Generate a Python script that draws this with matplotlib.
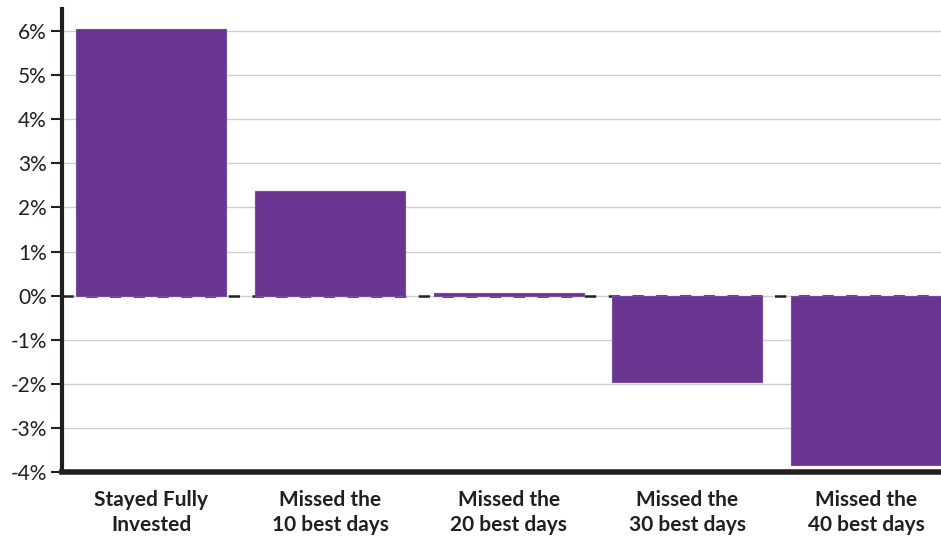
import matplotlib
matplotlib.use('Agg')
import matplotlib.pyplot as plt
import numpy as np

# data
categories = ['Stayed Fully\nInvested', 'Missed the\n10 best days', 'Missed the\n20 best days',
              'Missed the\n30 best days', 'Missed the\n40 best days']
returns = [6.04, 2.38, 0.07, -1.95, -3.85]
yticks = [-4, -3, -2, -1, 0, 1, 2, 3, 4, 5, 6]

plt.rcParams['font.family'] = ['Lato', 'DejaVu Sans']

fig = plt.figure(figsize=(9.41, 5.36), dpi=100)
ax = fig.add_axes([62 / 941, 64 / 536, 1 - 62 / 941, (536 - 64 - 9) / 536])

x = np.arange(len(categories))
ax.bar(x, returns, width=0.84, color='#693591', edgecolor='#7a4aa0', linewidth=0.8, zorder=3)
ax.axhline(0, color='#222222', linestyle=(0, (4.5, 5)), linewidth=1.8, zorder=2)

ax.set_xlim(-0.5, 4.42)
ax.set_ylim(-4, 6.5)
ax.set_yticks(yticks)
ax.set_yticklabels([f'{v}%' for v in yticks], fontsize=15, color='#231f20')
ax.set_xticks(x)
ax.set_xticklabels(categories, fontsize=15, fontweight='bold', color='#231f20', linespacing=1.3)

ax.grid(axis='y', color='#cfcfcf', linewidth=1.0, zorder=0)
ax.set_axisbelow(True)

for s in ['top', 'right']:
    ax.spines[s].set_visible(False)
ax.spines['left'].set_linewidth(3)
ax.spines['left'].set_color('#231f20')
ax.spines['bottom'].set_linewidth(4)
ax.spines['bottom'].set_color('#231f20')

ax.tick_params(axis='y', length=8, width=1.5, color='#231f20', pad=3)
ax.tick_params(axis='x', length=0, pad=13)

fig.savefig('out.png', dpi=100)
